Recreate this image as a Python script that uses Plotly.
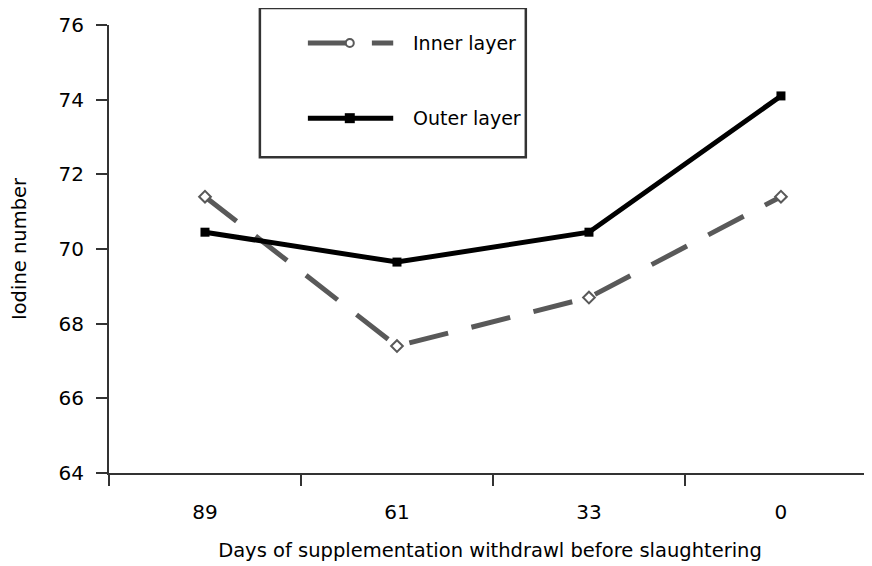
import plotly.graph_objects as go

days = ["89", "61", "33", "0"]
inner_layer = [71.4, 67.4, 68.7, 71.4]
outer_layer = [70.45, 69.65, 70.45, 74.1]
y_ticks = [64, 66, 68, 70, 72, 74, 76]

FONT = "DejaVu Sans"
AX = "#333333"
GREY = "#595959"
TXT = 19.5

fig = go.Figure()
fig.add_trace(go.Scatter(
    x=days, y=inner_layer, mode="lines+markers", name="Inner layer",
    line=dict(color=GREY, width=5, dash="40px,24px"),
    marker=dict(symbol="diamond", size=9, color="white", line=dict(color=GREY, width=2)),
    showlegend=False,
))
fig.add_trace(go.Scatter(
    x=days, y=outer_layer, mode="lines+markers", name="Outer layer",
    line=dict(color="black", width=5),
    marker=dict(symbol="square", size=9, color="black"),
    showlegend=False,
))

# manual legend (box, samples, labels) in paper coordinates
shapes = [
    dict(type="rect", xref="paper", yref="paper", x0=0.198, x1=0.547, y0=0.705, y1=1.038,
         line=dict(color="#333333", width=2.5), fillcolor="white", layer="below"),
    dict(type="line", xref="paper", yref="paper", x0=0.261, x1=0.373, y0=0.960, y1=0.960,
         line=dict(color=GREY, width=5, dash="40px,24px")),
    dict(type="line", xref="paper", yref="paper", x0=0.261, x1=0.373, y0=0.792, y1=0.792,
         line=dict(color="black", width=5)),
    dict(type="circle", xref="paper", yref="paper", xsizemode="pixel", ysizemode="pixel",
         xanchor=0.316, yanchor=0.960, x0=-4, x1=4, y0=-4, y1=4,
         line=dict(color=GREY, width=2), fillcolor="white"),
    dict(type="rect", xref="paper", yref="paper", xsizemode="pixel", ysizemode="pixel",
         xanchor=0.316, yanchor=0.792, x0=-5, x1=5, y0=-5, y1=5,
         line=dict(color="black", width=0), fillcolor="black"),
]
annotations = [
    dict(text="Inner layer", xref="paper", yref="paper", x=0.396, y=0.960,
         xanchor="left", yanchor="middle", showarrow=False, font=dict(size=19, color="black", family=FONT)),
    dict(text="Outer layer", xref="paper", yref="paper", x=0.396, y=0.792,
         xanchor="left", yanchor="middle", showarrow=False, font=dict(size=19, color="black", family=FONT)),
]

fig.update_layout(
    width=864, height=558,
    margin=dict(l=101, r=1, t=17, b=93),
    paper_bgcolor="white", plot_bgcolor="white",
    font=dict(family=FONT, size=TXT, color="black"),
    shapes=shapes, annotations=annotations,
    xaxis=dict(
        type="category", categoryorder="array", categoryarray=days,
        range=[-0.5, 3.469], tickson="boundaries",
        showline=True, linecolor=AX, linewidth=2,
        ticks="outside", ticklen=11, tickwidth=2, tickcolor=AX,
        showgrid=False, zeroline=False, ticklabelstandoff=20,
        tickfont=dict(size=20, family=FONT),
        title=dict(text="Days of supplementation withdrawl before slaughtering",
                   font=dict(size=TXT, family=FONT), standoff=20),
    ),
    yaxis=dict(
        range=[64, 76], tickvals=y_ticks,
        showline=True, linecolor=AX, linewidth=2,
        ticks="outside", ticklen=11, tickwidth=2, tickcolor=AX,
        showgrid=False, zeroline=False, ticklabelstandoff=8,
        tickfont=dict(size=20, family=FONT),
        title=dict(text="Iodine number", font=dict(size=TXT, family=FONT), standoff=30),
    ),
)

fig.write_html("out.html")
